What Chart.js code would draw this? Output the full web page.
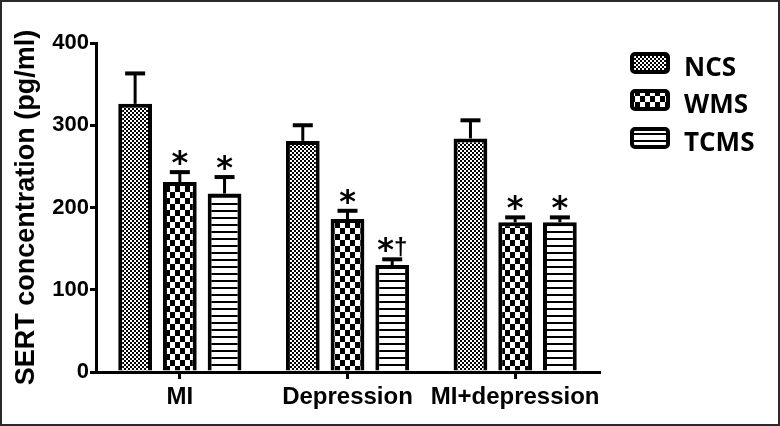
<!DOCTYPE html>
<html>
<head>
<meta charset="utf-8">
<script src="https://cdn.jsdelivr.net/npm/chart.js@4"></script>
<style>
  html, body { margin: 0; padding: 0; background: #fff; }
  #wrap { width: 780px; height: 426px; position: relative; }
</style>
</head>
<body>
<div id="wrap"><canvas id="chart"></canvas></div>
<script>
// data
const categories = ['MI', 'Depression', 'MI+depression'];
const seriesNames = ['NCS', 'WMS', 'TCMS'];
const ncsMean = [326, 281, 284];
const ncsSem = [37, 19, 22];
const wmsMean = [231, 186, 182];
const wmsSem = [12, 10, 6];
const tcmsMean = [217, 130, 182];
const tcmsSem = [20, 7, 6];
const ncsMarks = ['', '', ''];
const wmsMarks = ['*', '*', '*'];
const tcmsMarks = ['*', '*\u2020', '*'];
const yMin = 0, yMax = 400, yStep = 100;

// fill patterns (black & white print style)
function makePattern(kind) {
    const c = document.createElement('canvas');
    const g = c.getContext('2d');
    if (kind === 'fine') {
        c.width = 4; c.height = 4;
        g.fillStyle = '#fff'; g.fillRect(0, 0, 4, 4);
        g.fillStyle = '#000';
        g.fillRect(0, 0, 2, 2); g.fillRect(2, 2, 2, 2);
    } else if (kind === 'checker') {
        c.width = 10; c.height = 12;
        g.fillStyle = '#fff'; g.fillRect(0, 0, 10, 12);
        g.fillStyle = '#000';
        g.fillRect(0, 0, 5, 6); g.fillRect(5, 6, 5, 6);
    } else {
        c.width = 4; c.height = 7;
        g.fillStyle = '#fff'; g.fillRect(0, 0, 4, 7);
        g.fillStyle = '#000';
        g.fillRect(0, 0, 4, 2);
    }
    return g.createPattern(c, 'repeat');
}

const patterns = [makePattern('fine'), makePattern('checker'), makePattern('stripes')];

const datasets = [
    { label: seriesNames[0], data: ncsMean, sem: ncsSem, marks: ncsMarks },
    { label: seriesNames[1], data: wmsMean, sem: wmsSem, marks: wmsMarks },
    { label: seriesNames[2], data: tcmsMean, sem: tcmsSem, marks: tcmsMarks }
].map((d, i) => Object.assign(d, {
    backgroundColor: patterns[i],
    borderColor: '#000',
    borderWidth: 4,
    borderSkipped: 'bottom',
    categoryPercentage: 0.8,
    barPercentage: 0.755
}));

// error bars + significance marks
const errorBars = {
    id: 'errorBars',
    afterDatasetsDraw(chart) {
        const ctx = chart.ctx;
        const y = chart.scales.y;
        ctx.save();
        ctx.strokeStyle = '#000';
        ctx.fillStyle = '#000';
        chart.data.datasets.forEach((ds, i) => {
            const meta = chart.getDatasetMeta(i);
            meta.data.forEach((bar, j) => {
                const top = y.getPixelForValue(ds.data[j]);
                const errPx = y.getPixelForValue(ds.data[j] + ds.sem[j]);
                ctx.lineWidth = 3;
                ctx.beginPath();
                ctx.moveTo(bar.x, top);
                ctx.lineTo(bar.x, errPx);
                ctx.stroke();
                ctx.lineWidth = 4;
                ctx.beginPath();
                ctx.moveTo(bar.x - 10, errPx);
                ctx.lineTo(bar.x + 10, errPx);
                ctx.stroke();

                const mark = ds.marks[j];
                if (!mark) return;
                const star = mark[0];
                const rest = mark.slice(1);
                const starFont = 'bold 32px "DejaVu Sans"';
                const restFont = 'bold 24px "Liberation Sans"';
                ctx.font = starFont;
                const sm = ctx.measureText(star);
                let rw = 0, rm = null;
                if (rest) {
                    ctx.font = restFont;
                    rm = ctx.measureText(rest);
                    rw = rm.width;
                }
                const total = sm.width + rw;
                const x0 = bar.x - total / 2;
                const glyphBottom = errPx - 2 - 5;
                const baseline = glyphBottom - sm.actualBoundingBoxDescent;
                const starTop = baseline - sm.actualBoundingBoxAscent;
                ctx.textBaseline = 'alphabetic';
                ctx.textAlign = 'left';
                ctx.font = starFont;
                ctx.fillText(star, x0, baseline);
                if (rest) {
                    ctx.font = restFont;
                    ctx.fillText(rest, x0 + sm.width, starTop + rm.actualBoundingBoxAscent);
                }
            });
        });
        ctx.restore();
    }
};

// legend at right + outer frame
const sideLegend = {
    id: 'sideLegend',
    afterDraw(chart) {
        const ctx = chart.ctx;
        const boxTops = [52, 89, 127];
        ctx.save();
        chart.data.datasets.forEach((ds, i) => {
            const bx = 630, by = boxTops[i], bw = 40, bh = 22;
            ctx.beginPath();
            ctx.roundRect(bx + 2, by + 2, bw - 4, bh - 4, 3);
            ctx.fillStyle = ds.backgroundColor;
            ctx.fill();
            ctx.lineWidth = 4;
            ctx.strokeStyle = '#000';
            ctx.stroke();
            ctx.fillStyle = '#000';
            ctx.font = 'bold 26px "Open Sans"';
            ctx.textBaseline = 'alphabetic';
            ctx.textAlign = 'left';
            ctx.fillText(ds.label, 684, by + bh + 2);
        });
        ctx.lineWidth = 2;
        ctx.strokeStyle = '#2a2a2a';
        ctx.strokeRect(1, 1, 778, 424);
        ctx.restore();
    }
};

new Chart(document.getElementById('chart'), {
    type: 'bar',
    data: { labels: categories, datasets: datasets },
    options: {
        responsive: true,
        maintainAspectRatio: false,
        animation: false,
        layout: { padding: { top: 43, right: 181, bottom: 0, left: 0 } },
        plugins: {
            legend: { display: false },
            tooltip: { enabled: false }
        },
        scales: {
            x: {
                afterFit(scale) { scale.height = 54; },
                grid: {
                    offset: false,
                    drawOnChartArea: false,
                    drawTicks: true,
                    tickLength: 7,
                    lineWidth: 3,
                    color: '#000'
                },
                border: { color: '#000', width: 3 },
                ticks: {
                    color: '#000',
                    padding: 4,
                    maxRotation: 0,
                    minRotation: 0,
                    autoSkip: false,
                    font: { family: 'Liberation Sans', size: 24, weight: 'bold' }
                }
            },
            y: {
                min: yMin,
                max: yMax,
                afterFit(scale) { scale.width = 96; },
                grid: {
                    drawOnChartArea: false,
                    tickLength: 6,
                    lineWidth: 3,
                    color: '#000'
                },
                border: { color: '#000', width: 3 },
                ticks: {
                    stepSize: yStep,
                    color: '#000',
                    padding: 1,
                    font: { family: 'Liberation Sans', size: 22, weight: 'bold' }
                },
                title: {
                    display: true,
                    text: 'SERT concentration (pg/ml)',
                    color: '#000',
                    padding: { top: 10, bottom: 0 },
                    font: { family: 'Liberation Sans', size: 27, weight: 'bold' }
                }
            }
        }
    },
    plugins: [errorBars, sideLegend]
});
</script>
</body>
</html>
